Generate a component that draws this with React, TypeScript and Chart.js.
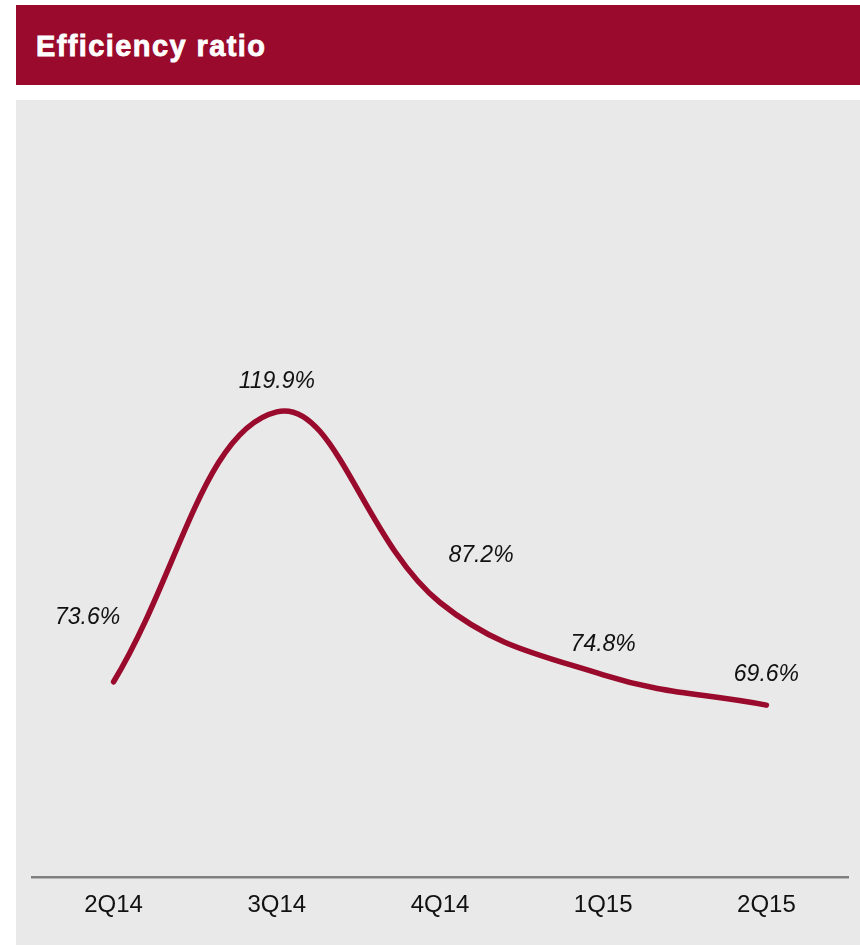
import React, { useEffect, useRef } from "react";
import { Chart, registerables } from "chart.js";

Chart.register(...registerables);

const categories = ["2Q14", "3Q14", "4Q14", "1Q15", "2Q15"];
const efficiencyRatio = [73.6, 119.9, 87.2, 74.8, 69.6];
const valueLabels = ["73.6%", "119.9%", "87.2%", "74.8%", "69.6%"];

const RED = "#990A2C";
const PANEL = "#E9E9E9";

const pointLabelPlugin = {
  id: "pointLabels",
  afterDatasetsDraw(chart: any, _args: any, opts: any) {
    const meta = chart.getDatasetMeta(0);
    const ctx = chart.ctx;
    ctx.save();
    ctx.font = opts.font;
    ctx.fillStyle = opts.color;
    ctx.textAlign = "center";
    ctx.textBaseline = "alphabetic";
    meta.data.forEach((pt: any, i: number) => {
      const off = (opts.offsets && opts.offsets[i]) || opts.defaultOffset;
      ctx.fillText(opts.labels[i], pt.x + off[0], pt.y + off[1]);
    });
    ctx.restore();
  },
};

export default function App() {
  const canvasRef = useRef<HTMLCanvasElement | null>(null);

  useEffect(() => {
    const canvas = canvasRef.current;
    if (!canvas) return;
    const chart = new Chart(canvas, {
      type: "line",
      data: {
        labels: categories,
        datasets: [
          {
            data: efficiencyRatio,
            borderColor: RED,
            borderWidth: 5.5,
            borderCapStyle: "round",
            borderJoinStyle: "round",
            tension: 0.4,
            pointRadius: 0,
            pointHoverRadius: 0,
            fill: false,
          },
        ],
      },
      options: {
        animation: false,
        responsive: false,
        devicePixelRatio: 1,
        layout: { padding: { top: 78, left: 16, right: 12, bottom: 12.5 } },
        plugins: {
          legend: { display: false },
          tooltip: { enabled: false },
          pointLabels: {
            labels: valueLabels,
            font: "italic 23px 'Liberation Sans', Arial, sans-serif",
            color: "#111111",
            defaultOffset: [0, -24],
            offsets: [[-26, -58], null, [41, -40], null, null],
          },
        } as any,
        scales: {
          x: {
            type: "category",
            offset: true,
            grid: { display: false, drawTicks: false },
            border: { display: true, color: "#808080", width: 2.5 },
            ticks: {
              color: "#111111",
              padding: 13,
              font: { family: "'Liberation Sans', Arial, sans-serif", size: 24 },
            },
          },
          y: { display: false, min: 40, max: 160 },
        },
      },
      plugins: [pointLabelPlugin],
    });
    return () => chart.destroy();
  }, []);

  return (
    <div style={{ position: "absolute", left: 0, top: 0, width: 860, height: 945, background: "#ffffff" }}>
      <div
        style={{
          position: "absolute",
          left: 16,
          top: 5,
          width: 844,
          height: 80,
          background: RED,
        }}
      >
        <div
          style={{
            position: "absolute",
            left: 20,
            top: 27,
            color: "#ffffff",
            font: "bold 29px 'Liberation Sans', Arial, sans-serif",
            letterSpacing: "1.4px",
            lineHeight: "29px",
            WebkitTextStroke: "0.8px #ffffff",
            whiteSpace: "nowrap",
          }}
        >
          Efficiency ratio
        </div>
      </div>
      <div
        style={{
          position: "absolute",
          left: 16,
          top: 100,
          width: 844,
          height: 845,
          background: PANEL,
        }}
      >
        <canvas ref={canvasRef} width={844} height={845} style={{ display: "block" }} />
      </div>
    </div>
  );
}
